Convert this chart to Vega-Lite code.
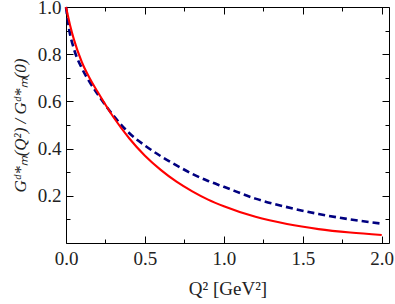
{
  "$schema": "https://vega.github.io/schema/vega-lite/v6.json",
  "width": 323,
  "height": 236,
  "autosize": {"type": "none"},
  "padding": {"left": 66, "top": 7, "right": 6, "bottom": 61},
  "background": "white",
  "config": {
    "view": {"stroke": null},
    "axis": {
      "domainColor": "black",
      "domainWidth": 1,
      "tickColor": "black",
      "tickWidth": 1,
      "grid": false,
      "labelFont": "Liberation Serif",
      "labelFontSize": 19,
      "labelColor": "#222",
      "titleFont": "Liberation Serif",
      "titleFontSize": 19,
      "titleFontWeight": "normal",
      "titleColor": "#222",
      "labelFlush": false,
      "labelOverlap": false
    }
  },
  "data": {
    "values": [
      {"q2": 0, "g": 1.0, "model": "dip"},
      {"q2": 0.02, "g": 0.905, "model": "dip"},
      {"q2": 0.05, "g": 0.823, "model": "dip"},
      {"q2": 0.1, "g": 0.741, "model": "dip"},
      {"q2": 0.15, "g": 0.682, "model": "dip"},
      {"q2": 0.2, "g": 0.631, "model": "dip"},
      {"q2": 0.3, "g": 0.54, "model": "dip"},
      {"q2": 0.4, "g": 0.466, "model": "dip"},
      {"q2": 0.5, "g": 0.413, "model": "dip"},
      {"q2": 0.6, "g": 0.368, "model": "dip"},
      {"q2": 0.7, "g": 0.329, "model": "dip"},
      {"q2": 0.8, "g": 0.293, "model": "dip"},
      {"q2": 0.9, "g": 0.263, "model": "dip"},
      {"q2": 1.0, "g": 0.238, "model": "dip"},
      {"q2": 1.2, "g": 0.188, "model": "dip"},
      {"q2": 1.4, "g": 0.152, "model": "dip"},
      {"q2": 1.6, "g": 0.123, "model": "dip"},
      {"q2": 1.8, "g": 0.1, "model": "dip"},
      {"q2": 2.0, "g": 0.082, "model": "dip"},
      {"q2": 0, "g": 1.0, "model": "red"},
      {"q2": 0.025, "g": 0.925, "model": "red"},
      {"q2": 0.05, "g": 0.863, "model": "red"},
      {"q2": 0.1, "g": 0.767, "model": "red"},
      {"q2": 0.15, "g": 0.698, "model": "red"},
      {"q2": 0.2, "g": 0.641, "model": "red"},
      {"q2": 0.3, "g": 0.534, "model": "red"},
      {"q2": 0.4, "g": 0.444, "model": "red"},
      {"q2": 0.5, "g": 0.37, "model": "red"},
      {"q2": 0.6, "g": 0.31, "model": "red"},
      {"q2": 0.7, "g": 0.26, "model": "red"},
      {"q2": 0.8, "g": 0.219, "model": "red"},
      {"q2": 0.9, "g": 0.184, "model": "red"},
      {"q2": 1.0, "g": 0.156, "model": "red"},
      {"q2": 1.2, "g": 0.111, "model": "red"},
      {"q2": 1.4, "g": 0.0804, "model": "red"},
      {"q2": 1.6, "g": 0.0589, "model": "red"},
      {"q2": 1.8, "g": 0.0444, "model": "red"},
      {"q2": 2.0, "g": 0.034, "model": "red"}
    ]
  },
  "layer": [
    {
      "transform": [{"filter": "datum.model == 'dip'"}],
      "mark": {"type": "line", "color": "#000080", "strokeWidth": 2.6, "strokeDash": [7, 4], "interpolate": "monotone"},
      "encoding": {
        "x": {
          "field": "q2", "type": "quantitative",
          "scale": {"domain": [0, 2.046], "nice": false, "zero": false},
          "axis": {
            "orient": "bottom",
            "title": "Q² [GeV²]",
            "titlePadding": 8,
            "values": [0, 0.25, 0.5, 0.75, 1.0, 1.25, 1.5, 1.75, 2.0],
            "labelExpr": "round(datum.value*2) == datum.value*2 ? format(datum.value, '.1f') : ''",
            "tickSize": {"condition": {"test": "round(datum.value*2) == datum.value*2", "value": -7}, "value": -4},
            "labelPadding": 13
          }
        },
        "y": {
          "field": "g", "type": "quantitative",
          "scale": {"domain": [0, 1], "nice": false},
          "axis": {
            "orient": "left",
            "title": "Gᵈ*ₘ(Q²) / Gᵈ*ₘ(0)",
            "titleFontStyle": "italic",
            "titleFontSize": 17,
            "titlePadding": 8,
            "values": [0.1, 0.2, 0.3, 0.4, 0.5, 0.6, 0.7, 0.8, 0.9, 1.0],
            "labelExpr": "abs(datum.value*5 - round(datum.value*5)) < 0.001 ? format(datum.value, '.1f') : ''",
            "tickSize": {"condition": {"test": "abs(datum.value*5 - round(datum.value*5)) < 0.001", "value": -7}, "value": -4},
            "labelPadding": 12
          }
        }
      }
    },
    {
      "transform": [{"filter": "datum.model == 'red'"}],
      "mark": {"type": "line", "color": "#ff0000", "strokeWidth": 2.1, "interpolate": "monotone"},
      "encoding": {
        "x": {
          "field": "q2", "type": "quantitative",
          "axis": {
            "orient": "top",
            "title": null,
            "labels": false,
            "values": [0, 0.25, 0.5, 0.75, 1.0, 1.25, 1.5, 1.75, 2.0],
            "tickSize": {"condition": {"test": "round(datum.value*2) == datum.value*2", "value": -7}, "value": -4}
          }
        },
        "y": {
          "field": "g", "type": "quantitative",
          "axis": {
            "orient": "right",
            "title": null,
            "labels": false,
            "values": [0.1, 0.2, 0.3, 0.4, 0.5, 0.6, 0.7, 0.8, 0.9, 1.0],
            "tickSize": {"condition": {"test": "abs(datum.value*5 - round(datum.value*5)) < 0.001", "value": -7}, "value": -4}
          }
        }
      }
    }
  ],
  "resolve": {"axis": {"x": "independent", "y": "independent"}}
}
